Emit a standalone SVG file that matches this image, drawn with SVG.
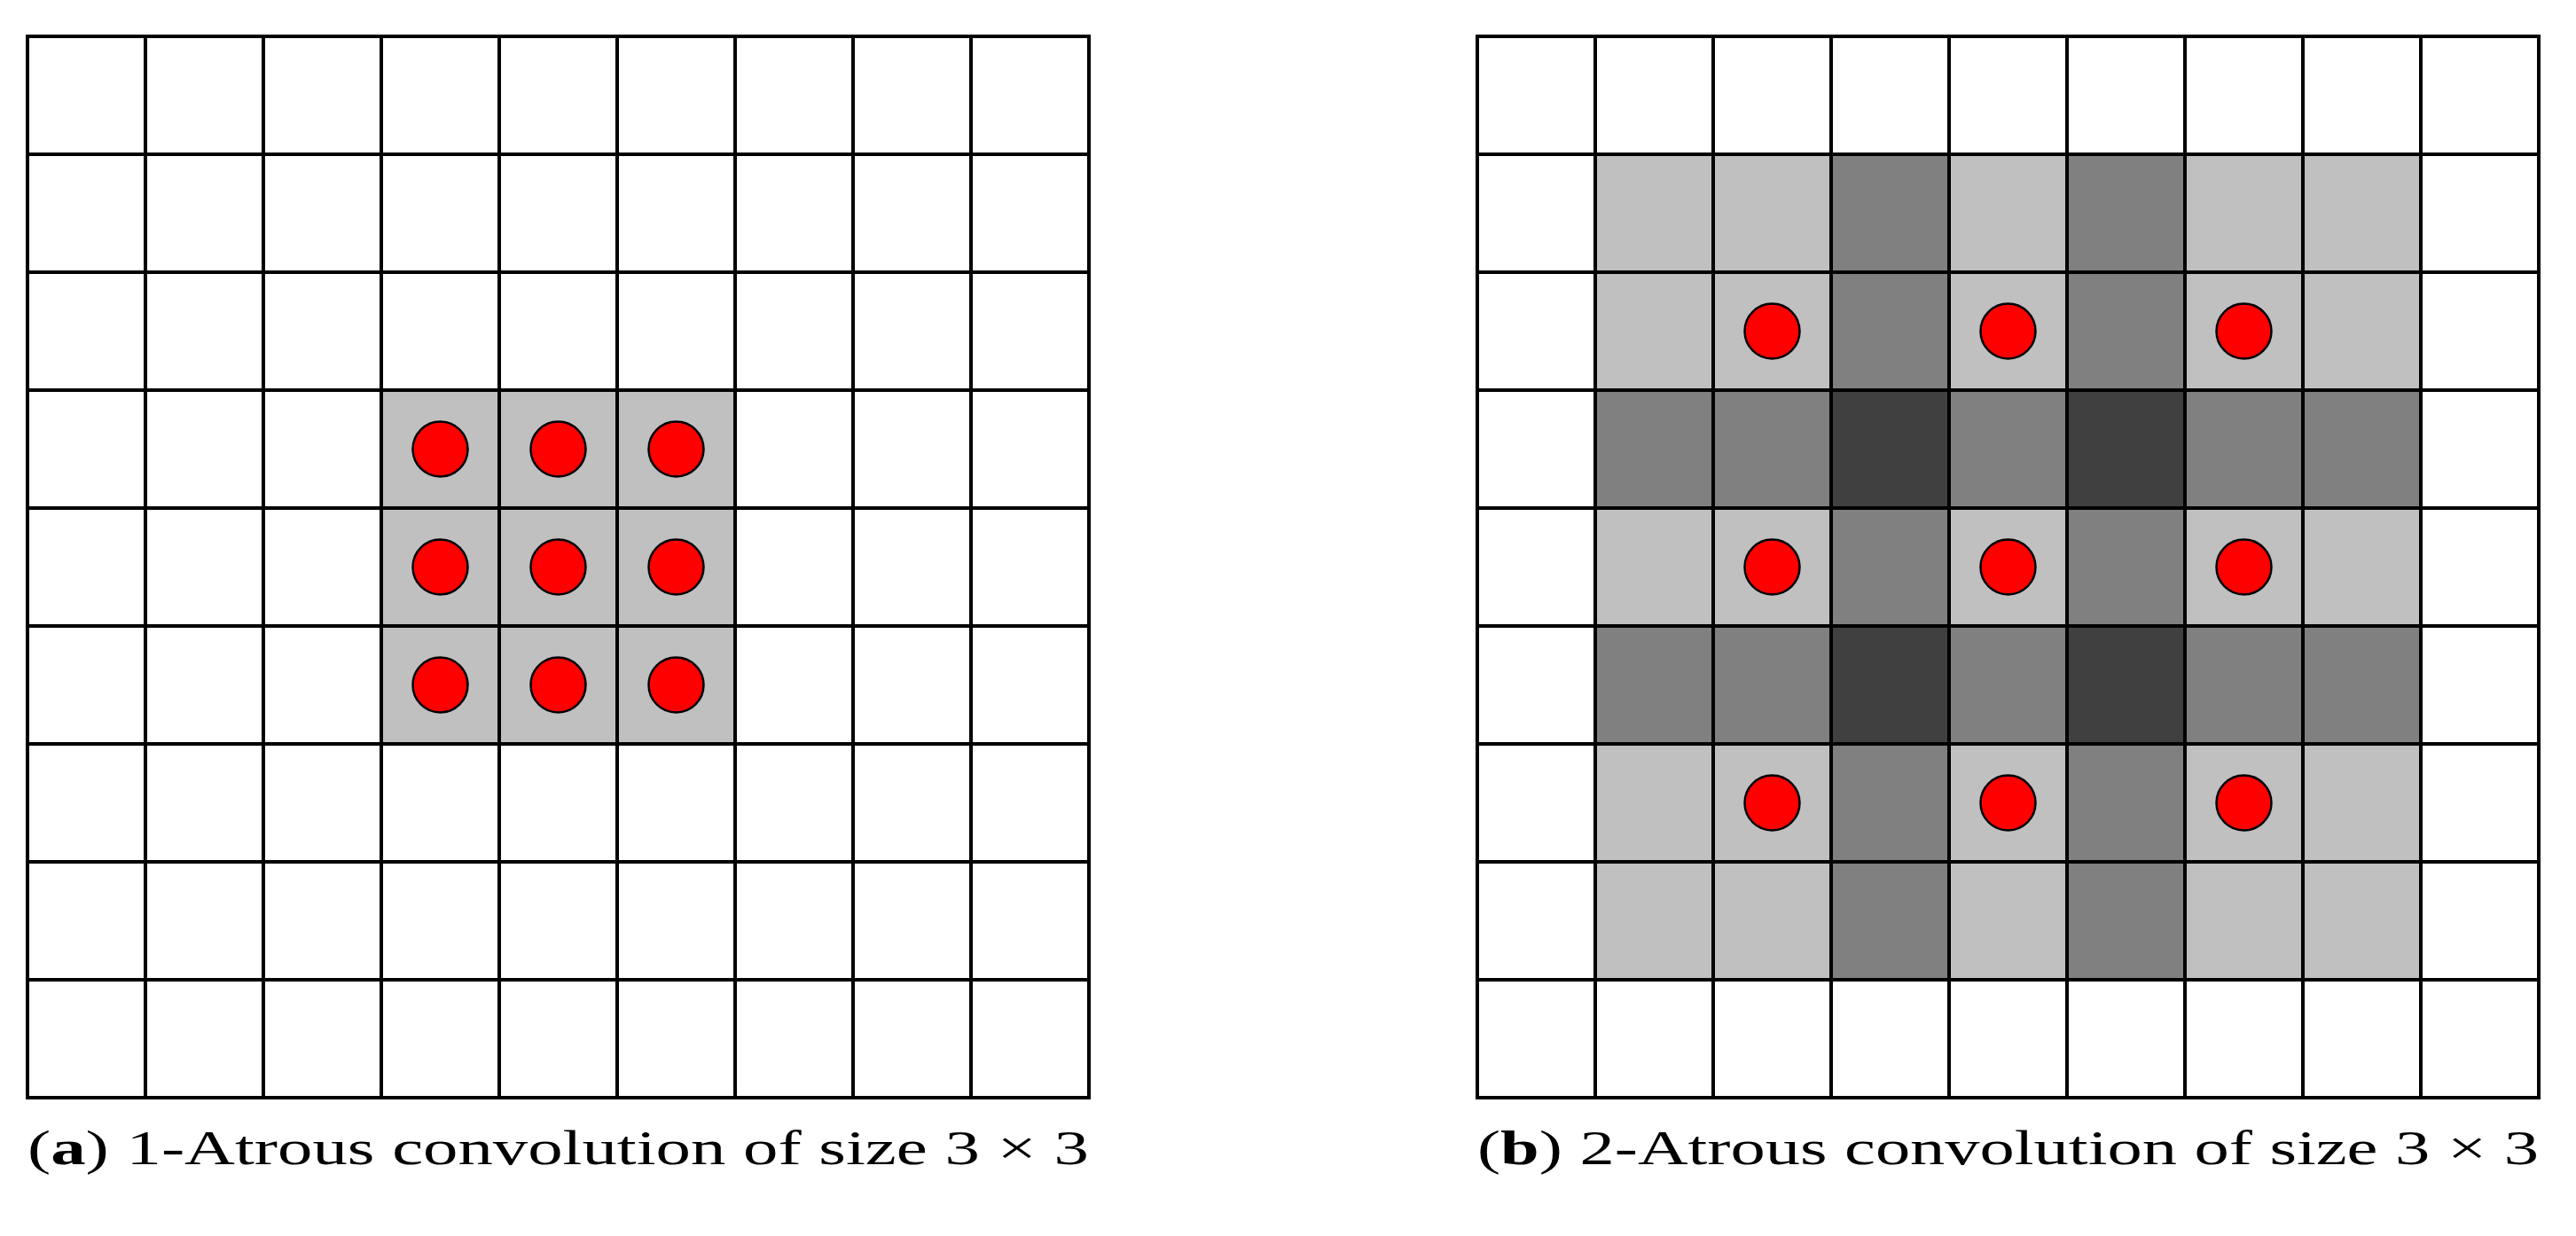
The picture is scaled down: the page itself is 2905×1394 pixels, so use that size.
<svg xmlns="http://www.w3.org/2000/svg" width="2905" height="1394" viewBox="0 0 2905 1394">
<style>
.L{fill:#c0c0c0}.M{fill:#808080}.D{fill:#404040}
.g{stroke:#000;stroke-width:4;fill:none}
.d{fill:#ff0000;stroke:#000;stroke-width:2.5}
.t{font-family:"Liberation Serif",serif;font-size:54px;fill:#000}
</style>
<defs>
<path id="grid" class="g" d="M0 0H1197V1197H0Z M133 0V1197 M266 0V1197 M399 0V1197 M532 0V1197 M665 0V1197 M798 0V1197 M931 0V1197 M1064 0V1197 M0 133H1197 M0 266H1197 M0 399H1197 M0 532H1197 M0 665H1197 M0 798H1197 M0 931H1197 M0 1064H1197"/>
<circle id="dot" class="d" r="31"/>
</defs>
<rect width="2905" height="1394" fill="#fff"/>
<g id="panel-a" transform="translate(31,41)">
<rect class="L" x="399" y="399" width="399" height="399"/>
<use href="#grid"/>
<use href="#dot" x="465.5" y="465.5"/><use href="#dot" x="598.5" y="465.5"/><use href="#dot" x="731.5" y="465.5"/>
<use href="#dot" x="465.5" y="598.5"/><use href="#dot" x="598.5" y="598.5"/><use href="#dot" x="731.5" y="598.5"/>
<use href="#dot" x="465.5" y="731.5"/><use href="#dot" x="598.5" y="731.5"/><use href="#dot" x="731.5" y="731.5"/>
</g>
<g id="panel-b" transform="translate(1666,41)">
<rect class="L" x="133" y="133" width="931" height="931"/>
<rect class="M" x="399" y="133" width="133" height="931"/>
<rect class="M" x="665" y="133" width="133" height="931"/>
<rect class="M" x="133" y="399" width="931" height="133"/>
<rect class="M" x="133" y="665" width="931" height="133"/>
<rect class="D" x="399" y="399" width="133" height="133"/>
<rect class="D" x="665" y="399" width="133" height="133"/>
<rect class="D" x="399" y="665" width="133" height="133"/>
<rect class="D" x="665" y="665" width="133" height="133"/>
<use href="#grid"/>
<use href="#dot" x="332.5" y="332.5"/><use href="#dot" x="598.5" y="332.5"/><use href="#dot" x="864.5" y="332.5"/>
<use href="#dot" x="332.5" y="598.5"/><use href="#dot" x="598.5" y="598.5"/><use href="#dot" x="864.5" y="598.5"/>
<use href="#dot" x="332.5" y="864.5"/><use href="#dot" x="598.5" y="864.5"/><use href="#dot" x="864.5" y="864.5"/>
</g>
<text id="caption-a" class="t" x="31" y="1313" textLength="1197" lengthAdjust="spacingAndGlyphs">(<tspan font-weight="bold">a</tspan>) 1-Atrous convolution of size 3 × 3</text>
<text id="caption-b" class="t" x="1666" y="1313" textLength="1197" lengthAdjust="spacingAndGlyphs">(<tspan font-weight="bold">b</tspan>) 2-Atrous convolution of size 3 × 3</text>
</svg>
